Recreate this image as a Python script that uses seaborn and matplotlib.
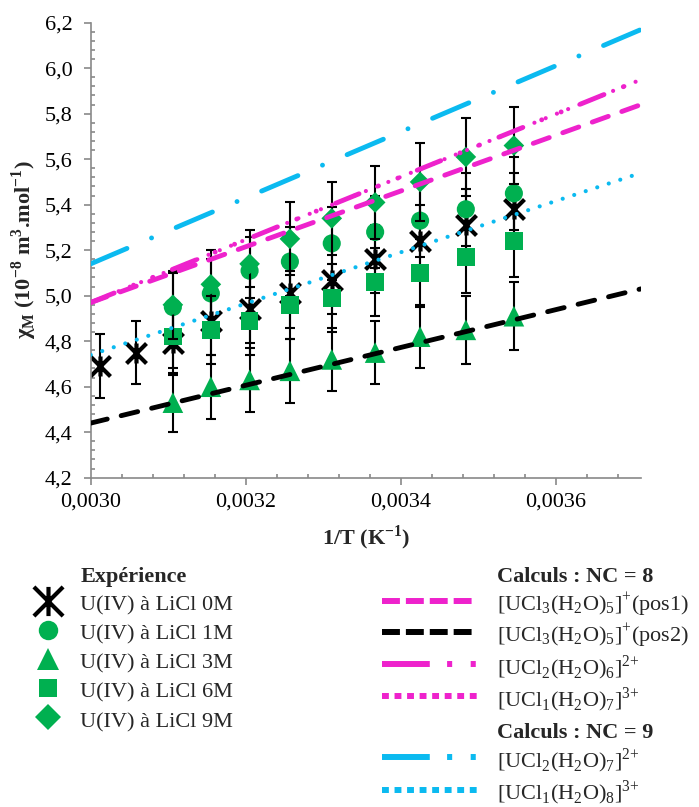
import matplotlib
matplotlib.use("Agg")
import matplotlib.pyplot as plt
from matplotlib.lines import Line2D
from matplotlib.path import Path
from matplotlib.ticker import MultipleLocator, FuncFormatter
import seaborn as sns

# 1/T des points de mesure (K-1)
inv_T = [0.003012, 0.003058, 0.003106, 0.003155, 0.003205, 0.003257,
         0.003311, 0.003367, 0.003425, 0.003484, 0.003546]

# chi_M experimental (10-8 m3/mol) et barres d'erreur
licl_0m = [4.69, 4.75, 4.79, 4.89, 4.94, 5.01, 5.07, 5.16, 5.24, 5.31, 5.38]
licl_0m_err = [0.14, 0.14, 0.14, 0.15, 0.15, 0.15, 0.15, 0.15, 0.16, 0.16, 0.16]
licl_1m = [4.95, 5.01, 5.11, 5.15, 5.23, 5.28, 5.33, 5.38, 5.45]
licl_1m_err = [0.15, 0.15, 0.15, 0.15, 0.16, 0.16, 0.16, 0.16, 0.16]
licl_3m = [4.53, 4.60, 4.63, 4.67, 4.72, 4.75, 4.82, 4.85, 4.91]
licl_3m_err = [0.13, 0.14, 0.14, 0.14, 0.14, 0.14, 0.14, 0.15, 0.15]
licl_6m = [4.82, 4.85, 4.89, 4.96, 4.99, 5.06, 5.10, 5.17, 5.24]
licl_6m_err = [0.14, 0.15, 0.15, 0.15, 0.15, 0.15, 0.15, 0.16, 0.16]
licl_9m = [4.96, 5.05, 5.14, 5.25, 5.34, 5.41, 5.50, 5.61, 5.66]
licl_9m_err = [0.15, 0.15, 0.15, 0.16, 0.16, 0.16, 0.17, 0.17, 0.17]

# droites calculees (extremites)
calc_x = [0.0030, 0.00371]
nc8_pos1 = [4.97, 5.84]
nc8_pos2 = [4.44, 5.03]
nc8_ucl2 = [4.97, 5.95]
nc8_ucl1 = [4.97, 5.95]
nc9_ucl2 = [5.14, 6.17]
nc9_ucl1 = [4.74, 5.54]

GREEN = "#00B050"
PINK = "#EE22CC"
CYAN = "#0BBAF0"
GREY = "#898989"

sns.set_style("ticks")
plt.rcParams["font.family"] = ["Liberation Serif", "DejaVu Serif"]
plt.rcParams["font.size"] = 16

# marqueur "etoile" facon Excel : croix + trait vertical
star = Path([(-1, -1), (1, 1), (-1, 1), (1, -1), (0, -1), (0, 1)],
            [Path.MOVETO, Path.LINETO] * 3)

fig = plt.figure(figsize=(6.99, 8.07), dpi=100)
ax = fig.add_axes([90.7 / 699, 1 - 477.7 / 807, 550.3 / 699, 455 / 807])

series = [
    (inv_T, licl_0m, licl_0m_err, star, 207, "black"),
    (inv_T[2:], licl_1m, licl_1m_err, "o", 170, GREEN),
    (inv_T[2:], licl_3m, licl_3m_err, "^", 222, GREEN),
    (inv_T[2:], licl_6m, licl_6m_err, "s", 160, GREEN),
    (inv_T[2:], licl_9m, licl_9m_err, "D", 111, GREEN),
]
for i, (x, y, e, m, s, c) in enumerate(series):
    z = 2 + i * 0.1
    ax.errorbar(x, y, yerr=e, fmt="none", ecolor="black", elinewidth=1.5,
                capsize=3.6, capthick=1.5, zorder=z)
    if c == "black":
        sns.scatterplot(x=x, y=y, marker=m, s=s, color="black", edgecolor="black",
                        linewidth=3, ax=ax, zorder=z + 0.05)
    else:
        sns.scatterplot(x=x, y=y, marker=m, s=s, color=c, edgecolor="none",
                        linewidth=0, ax=ax, zorder=z + 0.05)

lines = [
    (nc8_pos1, PINK, 3.5, (0, (3.5, 2.95))),
    (nc8_pos2, "black", 3.5, (0, (3.5, 2.95))),
    (nc8_ucl2, PINK, 3.5, (0, (5.2, 4.3, 0.01, 4.3, 0.01, 4.3))),
    (nc8_ucl1, PINK, 3.0, (1.5, (0.01, 2.9))),
    (nc9_ucl2, CYAN, 3.5, (0, (8.1, 5.5, 0.01, 5.5))),
    (nc9_ucl1, CYAN, 3.0, (0, (0.01, 2.9))),
]
for y, c, lw, ls in lines:
    sns.lineplot(x=calc_x, y=y, color=c, linewidth=lw, linestyle=ls,
                 dash_capstyle="round", ax=ax, zorder=3)

ax.set_xlim(0.0030, 0.00371)
ax.set_ylim(4.2, 6.2)
ax.xaxis.set_major_locator(MultipleLocator(0.0002))
ax.xaxis.set_minor_locator(MultipleLocator(0.00004))
ax.yaxis.set_major_locator(MultipleLocator(0.2))
ax.yaxis.set_minor_locator(MultipleLocator(0.04))
ax.xaxis.set_major_formatter(FuncFormatter(lambda v, p: f"{v:.4f}".replace(".", ",")))
ax.yaxis.set_major_formatter(FuncFormatter(lambda v, p: f"{v:.1f}".replace(".", ",")))

for side in ["top", "right"]:
    ax.spines[side].set_visible(False)
for side in ["left", "bottom"]:
    ax.spines[side].set_color(GREY)
    ax.spines[side].set_linewidth(1.2)
ax.tick_params(which="major", direction="out", length=5, width=1.2, color=GREY,
               labelsize=16, labelcolor="black")
ax.tick_params(which="minor", direction="in", length=3, width=1.2, color=GREY)
ax.tick_params(axis="y", which="major", pad=8)
ax.tick_params(axis="x", which="major", pad=6)

ax.set_xlabel(r"1/T (K$^\mathregular{-1}$)", fontsize=16, fontweight="bold", labelpad=8)
ax.set_ylabel(r"χ$_\mathregular{M}$ (10$^\mathregular{-8}$ m$^\mathregular{3}$.mol$^\mathregular{-1}$)",
              fontsize=16, fontweight="bold", labelpad=4)

# legendes
blank = Line2D([], [], linestyle="none")
exp_handles = [
    blank,
    Line2D([], [], marker=star, color="black", linestyle="none", markersize=21, markeredgewidth=3),
    Line2D([], [], marker="o", color=GREEN, linestyle="none", markersize=14, markeredgewidth=0),
    Line2D([], [], marker="^", color=GREEN, linestyle="none", markersize=16, markeredgewidth=0),
    Line2D([], [], marker="s", color=GREEN, linestyle="none", markersize=12.5, markeredgewidth=0),
    Line2D([], [], marker="D", color=GREEN, linestyle="none", markersize=13, markeredgewidth=0),
]
exp_labels = ["Expérience", "U(IV) à LiCl 0M", "U(IV) à LiCl 1M", "U(IV) à LiCl 3M",
              "U(IV) à LiCl 6M", "U(IV) à LiCl 9M"]
leg1 = fig.legend(exp_handles, exp_labels, loc="upper left", bbox_to_anchor=(26 / 699, 1 - 561.5 / 807),
                  frameon=False, borderpad=0, borderaxespad=0, handlelength=2.0, handleheight=1.39,
                  handletextpad=0.45, labelspacing=0.16, fontsize=16)
leg1.get_texts()[0].set_fontweight("bold")

calc_handles = [
    blank,
    Line2D([], [], color=PINK, lw=4.3, linestyle=(0, (3.0, 1.0)), dash_capstyle="butt"),
    Line2D([], [], color="black", lw=4.3, linestyle=(0, (3.0, 1.0)), dash_capstyle="butt"),
    Line2D([], [], color=PINK, lw=4.3, linestyle=(0, (8.0, 2.9, 0.85, 3.1, 0.85, 3.1)), dash_capstyle="butt"),
    Line2D([], [], color=PINK, lw=4.3, linestyle=(0, (1.15, 0.95)), dash_capstyle="butt"),
    blank,
    Line2D([], [], color=CYAN, lw=4.3, linestyle=(0, (8.0, 2.9, 0.85, 3.1, 0.85, 3.1)), dash_capstyle="butt"),
    Line2D([], [], color=CYAN, lw=4.3, linestyle=(0, (1.15, 0.95)), dash_capstyle="butt"),
]
calc_labels = [
    "Calculs : NC = 8",
    r"[UCl$_\mathregular{3}$(H$_\mathregular{2}$O)$_\mathregular{5}$]$^\mathregular{+}$(pos1)",
    r"[UCl$_\mathregular{3}$(H$_\mathregular{2}$O)$_\mathregular{5}$]$^\mathregular{+}$(pos2)",
    r"[UCl$_\mathregular{2}$(H$_\mathregular{2}$O)$_\mathregular{6}$]$^\mathregular{2{+}}$",
    r"[UCl$_\mathregular{1}$(H$_\mathregular{2}$O)$_\mathregular{7}$]$^\mathregular{3{+}}$",
    "Calculs : NC = 9",
    r"[UCl$_\mathregular{2}$(H$_\mathregular{2}$O)$_\mathregular{7}$]$^\mathregular{2{+}}$",
    r"[UCl$_\mathregular{1}$(H$_\mathregular{2}$O)$_\mathregular{8}$]$^\mathregular{3{+}}$",
]
leg2 = fig.legend(calc_handles, calc_labels, loc="upper left", bbox_to_anchor=(382 / 699, 1 - 561.5 / 807),
                  frameon=False, borderpad=0, borderaxespad=0, handlelength=4.28, handleheight=1.39,
                  handletextpad=0.9, labelspacing=0.16, fontsize=16)
leg2.get_texts()[0].set_fontweight("bold")
leg2.get_texts()[5].set_fontweight("bold")

fig.savefig("out.png", dpi=100)
